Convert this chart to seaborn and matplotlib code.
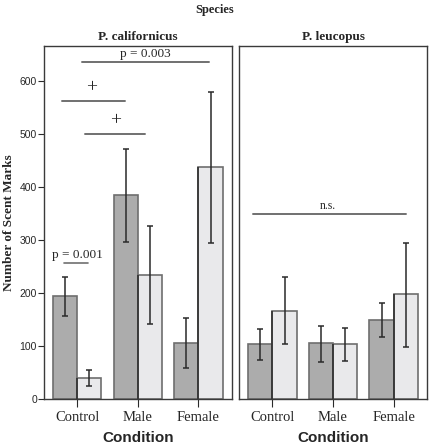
import numpy as np
import pandas as pd
import matplotlib
matplotlib.use("Agg")
import matplotlib.pyplot as plt
import seaborn as sns

# ---- data ----
species = ["P. californicus", "P. leucopus"]
conditions = ["Control", "Male", "Female"]
groups = ["Dark", "Light"]

# mean number of scent marks, order: Control, Male, Female
cal_dark = [194, 385, 106]
cal_light = [40, 234, 438]
leu_dark = [104, 105, 149]
leu_light = [166, 104, 198]

# error bar lower / upper ends
cal_dark_lo = [157, 296, 59]
cal_dark_hi = [230, 472, 153]
cal_light_lo = [25, 141, 294]
cal_light_hi = [55, 326, 579]
leu_dark_lo = [73, 70, 117]
leu_dark_hi = [132, 137, 181]
leu_light_lo = [104, 72, 98]
leu_light_hi = [230, 134, 294]

rows = []
vals = {
    ("P. californicus", "Dark"): (cal_dark, cal_dark_lo, cal_dark_hi),
    ("P. californicus", "Light"): (cal_light, cal_light_lo, cal_light_hi),
    ("P. leucopus", "Dark"): (leu_dark, leu_dark_lo, leu_dark_hi),
    ("P. leucopus", "Light"): (leu_light, leu_light_lo, leu_light_hi),
}
for (sp, g), (m, lo, hi) in vals.items():
    for c, mm, l, h in zip(conditions, m, lo, hi):
        rows.append({"Species": sp, "Condition": c, "Group": g,
                     "Marks": mm, "lo": l, "hi": h})
df = pd.DataFrame(rows)

sns.set_style("ticks")
plt.rcParams["font.family"] = ["Liberation Serif", "DejaVu Serif"]

dark_col = "#acacac"
light_col = "#e9e9eb"
edge_col = "#6e6e6e"
line_col = "#707070"

fig = plt.figure(figsize=(4.3, 4.46), dpi=100)
ax1 = fig.add_axes([0.102, 0.1054, 0.437, 0.7915])
ax2 = fig.add_axes([0.556, 0.1054, 0.437, 0.7915])

for ax, sp in zip([ax1, ax2], species):
    sub = df[df["Species"] == sp]
    sns.barplot(data=sub, x="Condition", y="Marks", hue="Group",
                order=conditions, hue_order=groups,
                palette=[dark_col, light_col], edgecolor=edge_col,
                linewidth=1.2, errorbar=None, legend=False, width=0.8,
                saturation=1, ax=ax)
    for cont, g in zip(ax.containers, groups):
        s = sub[sub["Group"] == g].set_index("Condition").loc[conditions]
        xs = [b.get_x() + b.get_width() / 2 for b in cont]
        m = s["Marks"].values
        ax.errorbar(xs, m, yerr=[m - s["lo"].values, s["hi"].values - m],
                    fmt="none", ecolor="#2a2a2a", elinewidth=1.1,
                    capsize=2.5, capthick=1.1, zorder=5)
        if g == "Light":
            for b in cont:
                ax.vlines(b.get_x(), 0, b.get_height(), color="#2a2a2a",
                          lw=1.1, zorder=4)
    ax.set_xlim(-0.55, 2.55)
    ax.set_ylim(0, 666)
    ax.set_xlabel("Condition", fontsize=11, fontweight="bold",
                  family=["Liberation Sans"], labelpad=5)
    ax.set_title(sp, fontsize=9.5, fontweight="bold", pad=4)
    for s in ax.spines.values():
        s.set_visible(True)
        s.set_color("#3a3a3a")
        s.set_linewidth(1.0)
    ax.tick_params(axis="x", length=6, color="#2a2a2a", labelsize=10.5,
                   pad=3)
    ax.tick_params(axis="y", length=4, color="#2a2a2a", labelsize=7.5,
                   pad=1)
    for lab in ax.get_yticklabels():
        lab.set_family(["Liberation Sans"])

ax1.set_yticks([0, 100, 200, 300, 400, 500, 600])
ax1.set_ylabel("Number of Scent Marks", fontsize=9.5, fontweight="bold",
               labelpad=3)
ax2.set_ylabel("")
ax2.set_yticks([])

# significance annotations
ax1.plot([0.08, 2.18], [636, 636], color=line_col, lw=1.4)
ax1.text(1.13, 640, "p = 0.003", ha="center", va="bottom", fontsize=9.5)
ax1.plot([-0.25, 0.79], [562, 562], color=line_col, lw=1.4)
ax1.text(0.23, 572, "+", ha="center", va="bottom", fontsize=14)
ax1.plot([0.13, 1.12], [500, 500], color=line_col, lw=1.4)
ax1.text(0.63, 510, "+", ha="center", va="bottom", fontsize=14)
ax1.plot([-0.21, 0.18], [257, 257], color=line_col, lw=1.2)
ax1.text(0.0, 271, "p = 0.001", ha="center", va="center", fontsize=9.5)
ax2.plot([-0.32, 2.2], [349, 349], color=line_col, lw=1.4)
ax2.text(0.92, 352, "n.s.", ha="center", va="bottom", fontsize=8.5)

fig.text(0.5, 0.977, "Species", ha="center", va="center", fontsize=9,
         fontweight="bold")

fig.savefig("out.png", dpi=100)
